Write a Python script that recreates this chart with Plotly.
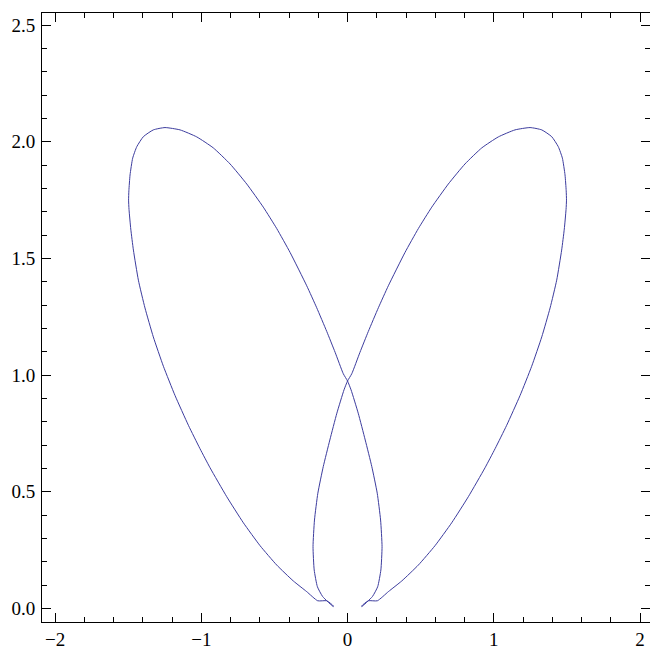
import plotly.graph_objects as go

# Left lobe: from the cusp near the origin, up the outer left side, over the
# left crest, down through the crossing point and along the inner right side.
left_lobe_x = [-0.097, -0.142, -0.204, -0.279, -0.371, -0.484, -0.598, -0.712,
               -0.826, -0.940, -1.009, -1.088, -1.179, -1.259, -1.328, -1.385,
               -1.430, -1.464, -1.482, -1.494, -1.497, -1.495, -1.487, -1.469,
               -1.441, -1.396, -1.328, -1.248, -1.145, -1.031, -0.918, -0.803,
               -0.689, -0.576, -0.484, -0.393, -0.279, -0.211, -0.142, -0.085,
               -0.029, 0.000, 0.024, 0.073, 0.121, 0.166, 0.203, 0.226,
               0.236, 0.228, 0.206, 0.170, 0.097]
left_lobe_y = [0.011, 0.033, 0.033, 0.072, 0.118, 0.186, 0.269, 0.367,
               0.479, 0.603, 0.685, 0.785, 0.912, 1.038, 1.164, 1.288,
               1.407, 1.536, 1.626, 1.710, 1.750, 1.790, 1.858, 1.930,
               1.979, 2.022, 2.051, 2.061, 2.051, 2.021, 1.974, 1.905,
               1.819, 1.720, 1.628, 1.526, 1.383, 1.289, 1.187, 1.098,
               1.006, 0.975, 0.937, 0.837, 0.722, 0.608, 0.494, 0.379,
               0.265, 0.165, 0.093, 0.051, 0.008]

# Right lobe: the same path on the other side of the y axis.
right_lobe_x = [0.097, 0.142, 0.204, 0.279, 0.371, 0.484, 0.598, 0.712,
                0.826, 0.940, 1.009, 1.088, 1.179, 1.259, 1.328, 1.385,
                1.430, 1.464, 1.482, 1.494, 1.497, 1.495, 1.487, 1.469,
                1.441, 1.396, 1.328, 1.248, 1.145, 1.031, 0.918, 0.803,
                0.689, 0.576, 0.484, 0.393, 0.279, 0.211, 0.142, 0.085,
                0.029, 0.000, -0.024, -0.073, -0.121, -0.166, -0.203, -0.226,
                -0.236, -0.228, -0.206, -0.170, -0.097]
right_lobe_y = [0.011, 0.033, 0.033, 0.072, 0.118, 0.186, 0.269, 0.367,
                0.479, 0.603, 0.685, 0.785, 0.912, 1.038, 1.164, 1.288,
                1.407, 1.536, 1.626, 1.710, 1.750, 1.790, 1.858, 1.930,
                1.979, 2.022, 2.051, 2.061, 2.051, 2.021, 1.974, 1.905,
                1.819, 1.720, 1.628, 1.526, 1.383, 1.289, 1.187, 1.098,
                1.006, 0.975, 0.937, 0.837, 0.722, 0.608, 0.494, 0.379,
                0.265, 0.165, 0.093, 0.051, 0.008]

x_ticks = [-2, -1, 0, 1, 2]
x_tick_text = ["\u22122", "\u22121", "0", "1", "2"]
y_ticks = [0.0, 0.5, 1.0, 1.5, 2.0, 2.5]
y_tick_text = ["0.0", "0.5", "1.0", "1.5", "2.0", "2.5"]

curve_x = left_lobe_x + right_lobe_x + [left_lobe_x[0]]
curve_y = left_lobe_y + right_lobe_y + [left_lobe_y[0]]

fig = go.Figure()
fig.add_trace(go.Scatter(
    x=curve_x, y=curve_y, mode="lines",
    line=dict(color="#3c3c9e", width=1, shape="spline", smoothing=0.5),
    hoverinfo="skip", showlegend=False,
))

axis_common = dict(
    showgrid=False, zeroline=False,
    showline=True, linecolor="black", linewidth=1,
    mirror="ticks", ticks="inside", ticklen=9, tickwidth=1, tickcolor="black",
    tickfont=dict(family="Liberation Serif", size=19, color="black"),
)

fig.update_xaxes(
    range=[-2.089, 2.068], tickvals=x_ticks, ticktext=x_tick_text,
    minor=dict(dtick=0.2, ticks="inside", ticklen=5, tickcolor="black", tickwidth=1),
    **axis_common,
)
fig.update_yaxes(
    range=[-0.058, 2.552], tickvals=y_ticks, ticktext=y_tick_text,
    ticklabelstandoff=2,
    minor=dict(dtick=0.1, ticks="inside", ticklen=5, tickcolor="black", tickwidth=1),
    **axis_common,
)

fig.update_layout(
    width=650, height=650,
    margin=dict(l=42, r=0, t=13, b=28),
    paper_bgcolor="white", plot_bgcolor="white",
)

fig.write_html("out.html")
